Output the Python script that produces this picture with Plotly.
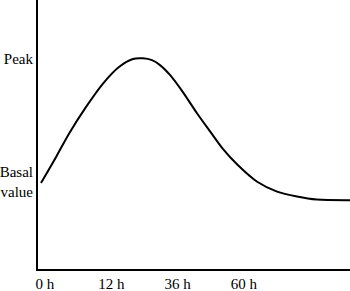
import plotly.graph_objects as go

# Schematic time position (tick index units) and relative level (basal=1, peak=2)
time_pos = [-0.06, 0.166, 0.36, 0.62, 0.875, 1.116, 1.327, 1.478, 1.614, 1.735, 1.885,
            2.08, 2.29, 2.49, 2.68, 2.90, 3.20, 3.50, 3.80, 4.10, 4.60]
level = [0.99, 1.20, 1.39, 1.61, 1.80, 1.935, 2.0, 2.005, 1.99, 1.95, 1.87,
         1.73, 1.56, 1.41, 1.27, 1.14, 1.0, 0.92, 0.88, 0.855, 0.85]

x_tick_vals = [0, 1, 2, 3]
x_tick_text = ["0 h", "12 h", "36 h", "60 h"]
y_tick_vals = [2.0, 1.0]
y_tick_text = ["Peak", "Basal<br>value"]

font = dict(family="Liberation Serif", size=15, color="black")

fig = go.Figure(go.Scatter(
    x=time_pos, y=level, mode="lines",
    line=dict(color="black", width=2, shape="spline", smoothing=0.8),
    hoverinfo="skip",
))

fig.update_layout(
    width=350, height=291,
    margin=dict(l=38, r=0, t=0, b=22, autoexpand=False),
    paper_bgcolor="white", plot_bgcolor="white",
    showlegend=False,
    font=font,
    xaxis=dict(range=[-0.105, 4.6], showgrid=False, zeroline=False,
               showline=True, linecolor="black", linewidth=2,
               tickvals=x_tick_vals, ticktext=x_tick_text, ticks="",
               tickfont=font, automargin=False),
    yaxis=dict(range=[0.29, 2.48], showgrid=False, zeroline=False,
               showline=True, linecolor="black", linewidth=2,
               tickvals=y_tick_vals, ticktext=y_tick_text, ticks="",
               tickfont=font, automargin=False),
)

fig.write_html("out.html", config={"displayModeBar": False},
               post_script="document.body.style.margin='0';")
